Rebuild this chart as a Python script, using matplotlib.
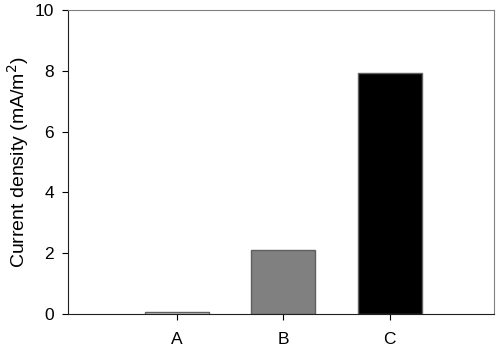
import matplotlib
matplotlib.use("Agg")
import matplotlib.pyplot as plt

categories = ["A", "B", "C"]
values = [0.08, 2.1, 7.93]
colors = ["#d8d8d8", "#808080", "#000000"]
yticks = [0, 2, 4, 6, 8, 10]

plt.rcParams['font.family'] = ['Liberation Sans', 'DejaVu Sans']

fig = plt.figure(figsize=(5, 3.48), dpi=100)
ax = fig.add_axes([0.136, 0.0977, 0.852, 0.8736])
pos = [1, 2, 3]
ax.bar(pos, values, width=0.6, color=colors, edgecolor="#606060", linewidth=1.0)
ax.set_xlim(-0.02, 3.98)
ax.set_ylim(0, 10)
ax.set_xticks(pos)
ax.set_xticklabels(categories)
ax.set_yticks(yticks)
ax.tick_params(direction="out", length=4, labelsize=12.5, top=False, right=False)
ax.tick_params(axis="x", pad=9)
ax.tick_params(axis="y", pad=6)
for s in ["top", "right"]:
    ax.spines[s].set_color("#808080")
for s in ["left", "bottom"]:
    ax.spines[s].set_color("#202020")
ax.set_ylabel("Current density (mA/m$^2$)", fontsize=14, labelpad=3)
fig.savefig("out.png", dpi=100)
